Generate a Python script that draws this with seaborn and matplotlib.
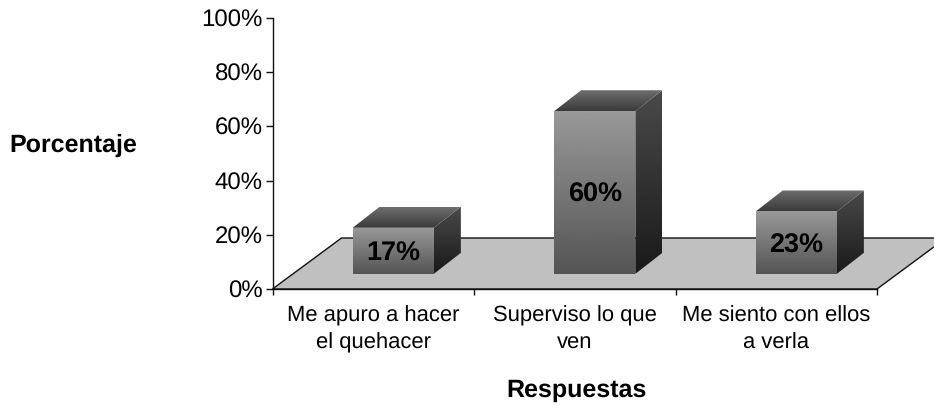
import numpy as np
import pandas as pd
import matplotlib
matplotlib.use("Agg")
import matplotlib.pyplot as plt
from matplotlib.patches import Polygon
import seaborn as sns

categories = ["Me apuro a hacer\nel quehacer", "Superviso lo que\nven", "Me siento con ellos\na verla"]
values = [17, 60, 23]
labels = ["17%", "60%", "23%"]
yticks = [0, 20, 40, 60, 80, 100]
FLOOR_BASE = 5.6

W, H = 934, 405
sns.set_theme(style="white")
plt.rcParams["font.family"] = ["Liberation Sans", "DejaVu Sans"]
plt.rcParams["text.hinting"] = "no_hinting"
plt.rcParams["text.hinting_factor"] = 1

fig = plt.figure(figsize=(W / 100, H / 100), dpi=100, facecolor="white")
ax = fig.add_axes([272.5 / W, 1 - 289 / H, (877 - 272.5) / W, 271 / H])
ax.set_facecolor("none")

df = pd.DataFrame({"cat": categories, "val": values})
sns.barplot(data=df, x="cat", y="val", color="#777777", width=0.403, saturation=1,
            bottom=FLOOR_BASE, ax=ax, zorder=3)

ax.set_xlim(-0.5, 2.5)
ax.set_ylim(0, 100)
px_x = 604.5 / 3
dx = 27 / px_x
dy = 21 / 2.71
fdx = 69 / px_x
fdy = 51 / 2.71
shift = 20 / px_x

# floor
floor = Polygon([(-0.5, 0), (2.5, 0), (2.5 + fdx, fdy), (-0.5 + fdx, fdy)], closed=True,
                facecolor="#c0c0c0", edgecolor="#111111", lw=1.0, zorder=1, clip_on=False)
ax.add_patch(floor)


def gradient(poly_pts, top_col, bot_col, z):
    pts = np.array(poly_pts)
    grad = np.linspace(top_col, bot_col, 128).reshape(-1, 1)
    im = ax.imshow(grad, cmap="gray", vmin=0, vmax=1, aspect="auto", interpolation="bilinear",
                   extent=(pts[:, 0].min(), pts[:, 0].max(), pts[:, 1].min(), pts[:, 1].max()),
                   origin="upper", zorder=z)
    clip = Polygon(pts, closed=True, transform=ax.transData, facecolor="none", edgecolor="none")
    ax.add_patch(clip)
    im.set_clip_path(clip)
    im.set_clip_on(True)


for patch, lab in zip(ax.patches[:3], labels):
    x0 = patch.get_x() + shift
    x1 = x0 + patch.get_width()
    y0 = patch.get_y()
    y1 = y0 + patch.get_height()
    patch.set_visible(False)
    gradient([(x0, y0), (x1, y0), (x1, y1), (x0, y1)], 0.60, 0.33, 3)
    gradient([(x1, y0), (x1 + dx, y0 + dy), (x1 + dx, y1 + dy), (x1, y1)], 0.29, 0.10, 3)
    gradient([(x0, y1), (x1, y1), (x1 + dx, y1 + dy), (x0 + dx, y1 + dy)], 0.43, 0.23, 3)
    ax.text((x0 + x1) / 2, (y0 + y1) / 2 - 1.0, lab, ha="center", va="center",
            fontsize=19.5, fontweight="bold", color="black", zorder=5)

ax.set_xlim(-0.5, 2.5)
ax.set_ylim(0, 100)

for s in ("top", "right"):
    ax.spines[s].set_visible(False)
for s in ("left", "bottom"):
    ax.spines[s].set_color("#111111")
    ax.spines[s].set_linewidth(1.0)
    ax.spines[s].set_zorder(6)

ax.set_yticks(yticks)
ax.set_yticklabels([f"{v}%" for v in yticks], fontsize=17.4, color="black")
ax.set_xticks([-0.5, 0.5, 1.5, 2.5], labels=[""] * 4)
ax.set_xticks([0, 1, 2], labels=categories, minor=True, fontsize=16, color="black", linespacing=1.42)
ax.tick_params(axis="y", left=True, length=5, width=1, color="#111111", pad=2)
ax.tick_params(axis="x", which="major", bottom=True, length=4.5, width=1, color="#111111")
ax.tick_params(axis="x", which="minor", bottom=False, pad=8)
ax.set_xlabel("")
ax.set_ylabel("")
fig.text(73 / W, 1 - 145 / H, "Porcentaje", ha="center", va="center", fontsize=17.8,
         fontweight="bold", color="black")
fig.text(576.5 / W, 1 - 390 / H, "Respuestas", ha="center", va="center", fontsize=17.8,
         fontweight="bold", color="black")

fig.savefig("out.png", dpi=100)
